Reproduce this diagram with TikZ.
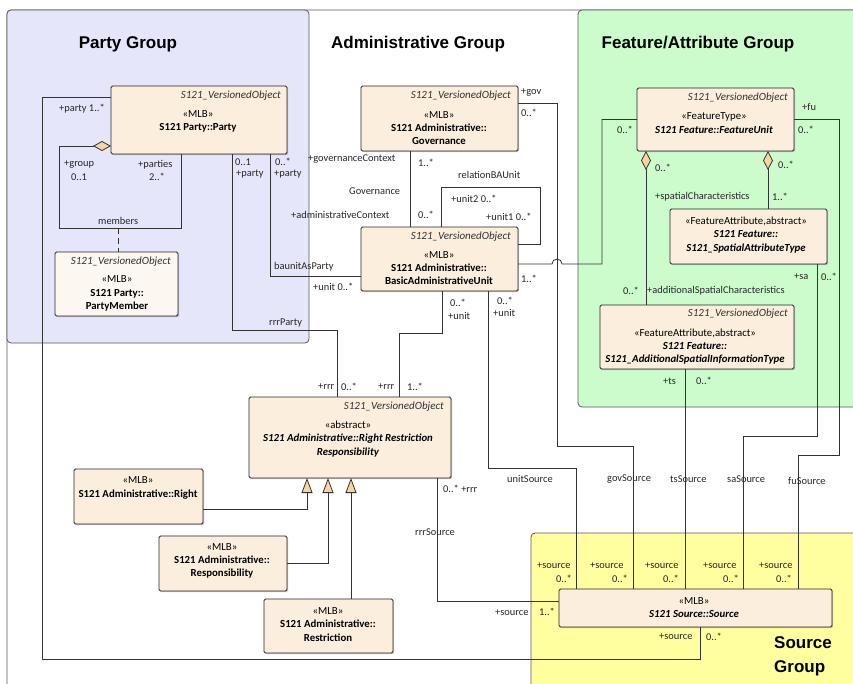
\documentclass[tikz,border=0pt]{standalone}
\usepackage{fontspec}
\setmainfont{Carlito}
\newfontfamily\titlefont{Liberation Sans}
\usetikzlibrary{shapes.geometric,calc,shadows,arrows.meta}
\definecolor{partyc}{HTML}{E6E6FB}
\definecolor{featc}{HTML}{CCFCCC}
\definecolor{srcc}{HTML}{FFFFA0}
\definecolor{boxc}{HTML}{FBEEDC}
\definecolor{boxl}{HTML}{FCF8F1}
\definecolor{diamc}{HTML}{F5D5A0}
\tikzset{
 grp/.style={draw=black!65, line width=0.8pt, rounded corners=4pt},
 umlbox/.style={draw=black!85, fill=boxc, line width=0.9pt, rounded corners=1.5pt, inner sep=0pt, outer sep=0pt, anchor=north west,
   drop shadow={shadow xshift=1.2pt, shadow yshift=-1.2pt, opacity=0.35, fill=black!60}},
 vo/.style={font=\fontsize{11}{12}\selectfont\itshape, text=black!80, anchor=east, inner sep=0pt},
 cls/.style={font=\fontsize{10.8}{13.2}\selectfont, align=center, inner sep=0pt, text=black},
 lbl/.style={font=\fontsize{10.4}{11}\selectfont, inner sep=0pt, anchor=west, text=black!85},
 conn/.style={draw=black!80, line width=0.8pt},
 agg/.style={conn, {Diamond[length=19pt,width=10pt,fill=diamc]}-},
 aggh/.style={conn, {Diamond[length=18pt,width=10pt,fill=diamc]}-},
 gen/.style={conn, -{Triangle[length=15pt,width=11pt,fill=diamc]}},
 title/.style={font=\titlefont\bfseries\fontsize{17}{24}\selectfont, inner sep=0pt},
}
\newcommand\mylbl[4]{\node[lbl] (#1) at (#2,#3) {#4};}
\begin{document}
\begin{tikzpicture}[x=1pt,y=-1pt]
\useasboundingbox (0,0) rectangle (853,683);
\clip (0,0) rectangle (853,683);
% groups
\draw[grp, fill=white] (7,10) rectangle (880,710);
\draw[grp, fill=partyc] (7,10) rectangle (309,343);
\draw[grp, fill=featc] (578,10) rectangle (880,407);
\draw[grp, fill=srcc] (531,533) rectangle (880,710);
\node[title] (tparty) at (128,44) {Party Group};
\node[title] (tadmin) at (418,44) {Administrative Group};
\node[title] (tfeat) at (698,44) {Feature/Attribute Group};
\node[title, align=left, anchor=west] (tsrc) at (774,656) {Source\\Group};

% boxes
\node[umlbox, minimum width=176pt, minimum height=68pt] (party) at (111,86) {};
\node[vo] (partyV) at (281,96) {S121\_VersionedObject};
\node[cls] (partyT) at (198,121) {«MLB»\\\textbf{S121 Party::Party}};

\node[umlbox, fill=boxl, minimum width=123pt, minimum height=64pt] (pm) at (55,252) {};
\node[vo] (pmV) at (171,262) {S121\_VersionedObject};
\node[cls] (pmT) at (117,293.5) {«MLB»\\\textbf{S121 Party::}\\\textbf{PartyMember}};

\node[umlbox, minimum width=157pt, minimum height=65pt] (gov) at (361,86) {};
\node[vo] (govV) at (511,96) {S121\_VersionedObject};
\node[cls] (govT) at (439,128) {«MLB»\\\textbf{S121 Administrative::}\\\textbf{Governance}};

\node[umlbox, minimum width=157pt, minimum height=64pt] (bau) at (361,227) {};
\node[vo] (bauV) at (511,237) {S121\_VersionedObject};
\node[cls] (bauT) at (439,268) {«MLB»\\\textbf{S121 Administrative::}\\\textbf{BasicAdministrativeUnit}};

\node[umlbox, minimum width=157pt, minimum height=63pt] (fu) at (637,88) {};
\node[vo] (fuV) at (788,98) {S121\_VersionedObject};
\node[cls] (fuT) at (714,123) {«FeatureType»\\\textbf{\itshape S121 Feature::FeatureUnit}};

\node[umlbox, minimum width=157pt, minimum height=55pt] (sat) at (670,209) {};
\node[cls] (satT) at (746,235) {«FeatureAttribute,abstract»\\\textbf{\itshape S121 Feature::}\\\textbf{\itshape S121\_SpatialAttributeType}};

\node[umlbox, minimum width=194pt, minimum height=64pt] (add) at (600,305) {};
\node[vo] (addV) at (788,314) {S121\_VersionedObject};
\node[cls] (addT) at (695,346.5) {«FeatureAttribute,abstract»\\\textbf{\itshape S121 Feature::}\\\textbf{\itshape S121\_AdditionalSpatialInformationType}};

\node[umlbox, minimum width=202pt, minimum height=81pt] (rrr) at (249,397) {};
\node[vo] (rrrV) at (444,407) {S121\_VersionedObject};
\node[cls] (rrrT) at (348,439) {«abstract»\\\textbf{\itshape S121 Administrative::Right Restriction}\\\textbf{\itshape Responsibility}};

\node[umlbox, minimum width=129pt, minimum height=55pt] (right) at (74,469) {};
\node[cls] (rightT) at (138,488) {«MLB»\\\textbf{S121 Administrative::Right}};

\node[umlbox, minimum width=128pt, minimum height=55pt] (resp) at (159,536) {};
\node[cls] (respT) at (222,561) {«MLB»\\\textbf{S121 Administrative::}\\\textbf{Responsibility}};

\node[umlbox, minimum width=129pt, minimum height=54pt] (restr) at (264,599) {};
\node[cls] (restrT) at (328,624.5) {«MLB»\\\textbf{S121 Administrative::}\\\textbf{Restriction}};

\node[umlbox, minimum width=273pt, minimum height=38pt] (src) at (559,589) {};
\node[cls] (srcT) at (694,607.5) {«MLB»\\\textbf{\itshape S121 Source::Source}};

% connectors
\draw[aggh] ([yshift=-26pt]party.west) -| (59,228) -| ([xshift=70pt]party.south west);
\coordinate (memc) at (118,228);
\draw[conn, dash pattern=on 6pt off 4pt] (memc) -- ([xshift=63pt]pm.north west);
\draw[conn] ([xshift=121pt]party.south west) |- (337,330) -- ([xshift=88pt]rrr.north west);
\draw[conn] ([xshift=159pt]party.south west) |- ([yshift=-17pt]bau.west);
\draw[conn] ([xshift=49pt]gov.south west) -- ([xshift=49pt]bau.north west);
\draw[conn] ([xshift=80pt]bau.north west) |- (540,187) |- ([yshift=15pt]bau.east);
\draw[conn] ([yshift=-5pt]bau.east) -- (552,264) arc[start angle=180,end angle=0,radius=5pt] -- (602,264) |- (fu.west);
\draw[conn] ([yshift=15.5pt]gov.east) -| (557,446) -| ([xshift=74pt]src.north west);
\draw[conn] ([xshift=127pt]bau.south west) |- (576,468) -- ([xshift=17pt]src.north west);
\draw[conn] ([xshift=81pt]bau.south west) |- (399,333) -- ([xshift=150pt]rrr.north west);
\draw[conn] ([xshift=188pt]rrr.south west) |- ([yshift=7pt]src.west);
\draw[conn] ([xshift=85pt]add.south west) -- ([xshift=126pt]src.north west);
\draw[conn] ([xshift=147pt]sat.south west) |- (743,436) -- ([xshift=184pt]src.north west);
\draw[conn] (fu.east) -| (839,455) -| ([xshift=239pt]src.north west);
\draw[agg] ([xshift=9pt]fu.south west) -- ([xshift=46pt]add.north west);
\draw[agg] ([xshift=131pt]fu.south west) -- ([xshift=98pt]sat.north west);
\draw[gen] ([yshift=-12.5pt]right.east) -| ([xshift=58pt]rrr.south west);
\draw[gen] (resp.east) -| ([xshift=79pt]rrr.south west);
\draw[gen] ([xshift=87pt]restr.north west) -- ([xshift=102pt]rrr.south west);
\draw[conn] ([yshift=23pt]party.west) -| (42,659) -| ([xshift=141pt]src.south west);

% labels
\mylbl{a1}{59}{109}{+party 1..*}
\mylbl{a2}{64}{165}{+group}
\mylbl{a3}{71}{177}{0..1}
\mylbl{a4}{138}{165}{+parties}
\mylbl{a5}{149}{177}{2..*}
\mylbl{a6}{98}{221}{members}
\mylbl{a7}{235}{162}{0..1}
\mylbl{a8}{236}{174}{+party}
\mylbl{a9}{275}{162}{0..*}
\mylbl{a10}{274}{174}{+party}
\mylbl{a11}{269}{323}{rrrParty}
\mylbl{a12}{274}{267}{baunitAsParty}
\mylbl{a13}{313}{287}{+unit 0..*}
\mylbl{b1}{308}{159}{+governanceContext}
\mylbl{b2}{418}{163}{1..*}
\mylbl{b3}{349}{191}{Governance}
\mylbl{b4}{291}{215}{+administrativeContext}
\mylbl{b5}{418}{215}{0..*}
\mylbl{b6}{458}{175}{relationBAUnit}
\mylbl{b7}{451}{199}{+unit2 0..*}
\mylbl{b8}{486}{217}{+unit1 0..*}
\mylbl{b9}{521}{93}{+gov}
\mylbl{b10}{521}{113}{0..*}
\mylbl{b11}{521}{279}{1..*}
\mylbl{b12}{617}{130}{0..*}
\mylbl{b13}{497}{301}{0..*}
\mylbl{b14}{493}{313}{+unit}
\mylbl{b15}{450}{303}{0..*}
\mylbl{b16}{448}{316}{+unit}
\mylbl{b17}{318}{387}{+rrr}
\mylbl{b18}{341}{387}{0..*}
\mylbl{b19}{378}{387}{+rrr}
\mylbl{b20}{407}{387}{1..*}
\mylbl{b21}{443}{489}{0..* +rrr}
\mylbl{b22}{415}{532}{rrrSource}
\mylbl{b23}{495}{613}{+source}
\mylbl{b24}{539}{612}{1..*}
\mylbl{c1}{507}{479}{unitSource}
\mylbl{c2}{607}{479}{govSource}
\mylbl{c3}{670}{479}{tsSource}
\mylbl{c4}{727}{479}{saSource}
\mylbl{c5}{788}{481}{fuSource}
\mylbl{s1}{537}{566}{+source}
\mylbl{s2}{590}{566}{+source}
\mylbl{s3}{645}{566}{+source}
\mylbl{s4}{703}{566}{+source}
\mylbl{s5}{759}{566}{+source}
\mylbl{m1}{556}{579}{0..*}
\mylbl{m2}{612}{579}{0..*}
\mylbl{m3}{663}{579}{0..*}
\mylbl{m4}{723}{579}{0..*}
\mylbl{m5}{776}{579}{0..*}
\mylbl{s6}{659}{637}{+source}
\mylbl{m6}{706}{637}{0..*}
\mylbl{f1}{802}{107}{+fu}
\mylbl{f2}{798}{130}{0..*}
\mylbl{f3}{655}{168}{0..*}
\mylbl{f4}{778}{165}{0..*}
\mylbl{f5}{655}{197}{+spatialCharacteristics}
\mylbl{f6}{772}{197}{1..*}
\mylbl{f7}{623}{291}{0..*}
\mylbl{f8}{647}{291}{+additionalSpatialCharacteristics}
\mylbl{f9}{794}{277}{+sa}
\mylbl{f10}{821}{277}{0..*}
\mylbl{f11}{663}{381}{+ts}
\mylbl{f12}{696}{381}{0..*}
\end{tikzpicture}
\end{document}
